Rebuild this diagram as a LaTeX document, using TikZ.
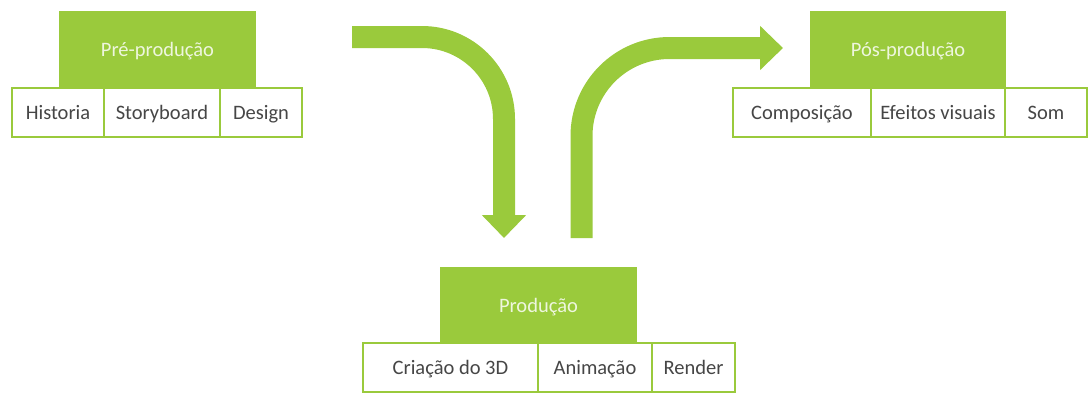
\documentclass[tikz,border=0pt]{standalone}
\usepackage{fontspec}
\setmainfont{Carlito}
\usetikzlibrary{arrows.meta}
\definecolor{lgreen}{RGB}{154,202,60}
\definecolor{ttext}{RGB}{238,246,222}
\definecolor{stext}{RGB}{70,70,70}
\begin{document}
\begin{tikzpicture}[x=1pt,y=-1pt,
  title/.style={fill=lgreen, text=ttext, inner sep=0pt, outer sep=0pt, anchor=north west, minimum height=77pt, text height=13pt, text depth=0pt, font=\fontsize{20.5}{24}\selectfont},
  sub/.style={draw=lgreen, line width=1.8pt, fill=white, text=stext, inner sep=0pt, outer sep=0pt, anchor=north west, minimum height=49pt, text height=13pt, text depth=0pt, font=\fontsize{20.5}{24}\selectfont},
  flow/.style={draw=lgreen, line width=22pt, -{Triangle[length=23pt,width=43pt]}}
]
\useasboundingbox (0,0) rectangle (1088,392);
% Pre-producao
\node[title, minimum width=197pt] (pre) at (59,11) {Pré-produção};
\node[sub, minimum width=92pt] (hist) at (12,88) {Historia};
\node[sub, minimum width=116pt] (story) at (104,88) {Storyboard};
\node[sub, minimum width=82pt] (design) at (220,88) {Design};
% Producao
\node[title, minimum width=197pt] (prod) at (440,267) {Produção};
\node[sub, minimum width=175pt] (cri) at (363,343) {Criação do 3D};
\node[sub, minimum width=114pt] (anim) at (538,343) {Animação};
\node[sub, minimum width=83pt] (rend) at (652,343) {Render};
% Pos-producao
\node[title, minimum width=196pt] (pos) at (810,11) {Pós-produção};
\node[sub, minimum width=138pt] (comp) at (733,88) {Composição};
\node[sub, minimum width=134pt] (efe) at (871,88) {Efeitos visuais};
\node[sub, minimum width=82pt] (som) at (1005,88) {Som};
% arrows
\coordinate (a1s) at (352,37);
\coordinate (a1e) at (504,238);
\coordinate (a2s) at (581.5,238);
\coordinate (a2e) at (783,48);
\draw[flow, rounded corners=82pt] (a1s) -| (a1e);
\draw[flow, rounded corners=88pt] (a2s) |- (a2e);
\end{tikzpicture}
\end{document}
